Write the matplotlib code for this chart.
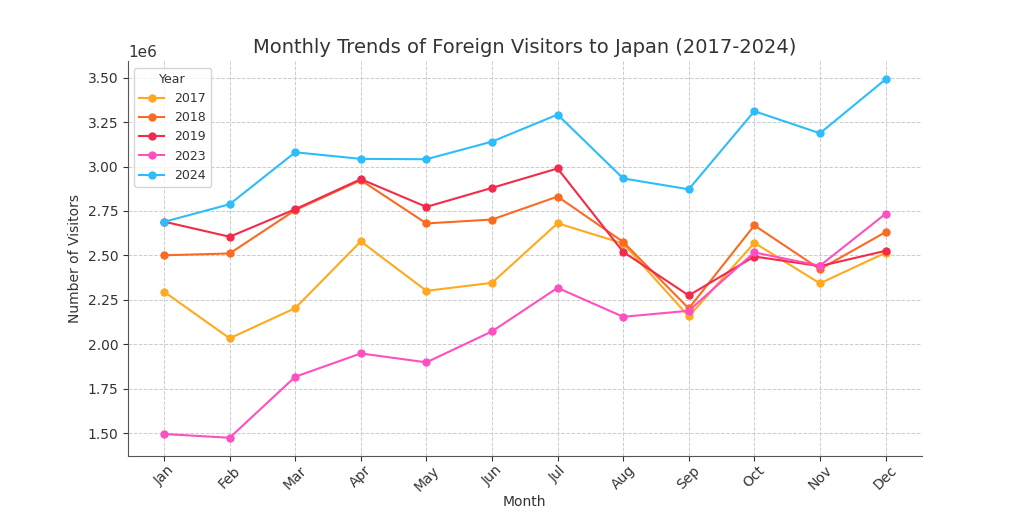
import matplotlib
matplotlib.use('Agg')
import matplotlib.pyplot as plt

# Month labels and visitor counts
months = ['Jan', 'Feb', 'Mar', 'Apr', 'May', 'Jun', 'Jul', 'Aug', 'Sep', 'Oct', 'Nov', 'Dec']
years = ['2017', '2018', '2019', '2023', '2024']

v2017 = [2296000, 2034000, 2204000, 2579000, 2301000, 2346000, 2681000, 2567000, 2157000, 2571000, 2343000, 2515000]
v2018 = [2501000, 2511000, 2755000, 2923000, 2680000, 2702000, 2831000, 2576000, 2202000, 2669000, 2423000, 2631000]
v2019 = [2690000, 2605000, 2760000, 2929000, 2773000, 2880000, 2989000, 2520000, 2275000, 2494000, 2440000, 2526000]
v2023 = [1496000, 1475000, 1818000, 1949000, 1899000, 2073000, 2318000, 2155000, 2189000, 2517000, 2442000, 2734000]
v2024 = [2689000, 2788000, 3080000, 3043000, 3041000, 3140000, 3292000, 2933000, 2872000, 3311000, 3187000, 3490000]

colors = ['#FFA91F', '#F96B23', '#F42A4A', '#FF4FC0', '#2DBDFA']
series = [v2017, v2018, v2019, v2023, v2024]

text_col = '#333333'
fig, ax = plt.subplots(figsize=(10.24, 5.12), dpi=100)

for yr, vals, c in zip(years, series, colors):
    ax.plot(months, vals, marker='o', markersize=5, linewidth=1.5, color=c, label=yr)

ax.set_title('Monthly Trends of Foreign Visitors to Japan (2017-2024)', fontsize=14, color=text_col)
ax.set_xlabel('Month', fontsize=10, color=text_col, labelpad=1)
ax.set_ylabel('Number of Visitors', fontsize=10, color=text_col)
ax.grid(True, linestyle='--', color='#cccccc', linewidth=0.7)
ax.tick_params(axis='x', rotation=45, colors=text_col, labelsize=10, pad=2)
ax.tick_params(axis='y', colors=text_col, labelsize=10)
ax.yaxis.get_offset_text().set_color(text_col)
ax.yaxis.get_offset_text().set_fontsize(11)
for s in ['top', 'right']:
    ax.spines[s].set_visible(False)
for s in ['left', 'bottom']:
    ax.spines[s].set_color('#555555')

leg = ax.legend(title='Year', loc='upper left', fontsize=9, title_fontsize=9)
for t in leg.get_texts():
    t.set_color(text_col)
leg.get_title().set_color(text_col)

plt.savefig('out.png', dpi=100)
